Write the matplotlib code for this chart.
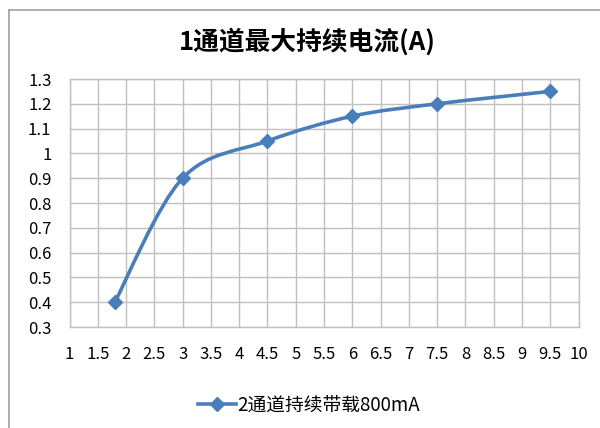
import numpy as np
import matplotlib.pyplot as plt
from matplotlib.path import Path
from matplotlib.patches import PathPatch
from matplotlib.lines import Line2D

plt.rcParams['font.family'] = ['Noto Sans CJK SC', 'DejaVu Sans']

# data
x_vals = [1.8, 3, 4.5, 6, 7.5, 9.5]
y_vals = [0.4, 0.9, 1.05, 1.15, 1.2, 1.25]
x_ticks = [1, 1.5, 2, 2.5, 3, 3.5, 4, 4.5, 5, 5.5, 6, 6.5, 7, 7.5, 8, 8.5, 9, 9.5, 10]
x_labels = ["1", "1.5", "2", "2.5", "3", "3.5", "4", "4.5", "5", "5.5", "6", "6.5",
            "7", "7.5", "8", "8.5", "9", "9.5", "10"]
y_ticks = [0.3, 0.4, 0.5, 0.6, 0.7, 0.8, 0.9, 1.0, 1.1, 1.2, 1.3]
y_labels = ["0.3", "0.4", "0.5", "0.6", "0.7", "0.8", "0.9", "1", "1.1", "1.2", "1.3"]
title = "1通道最大持续电流(A)"
series_name = "2通道持续带载800mA"

line_color = "#4a7ebb"
grid_color = "#c0c0c0"

fig = plt.figure(figsize=(6, 4.28), dpi=100)
ax = fig.add_axes([69.5 / 600, 1 - 327 / 428, 509 / 600, 248 / 428])

# smoothed line like Excel (bezier through the points)
pts = np.column_stack([x_vals, y_vals])
verts = [tuple(pts[0])]
codes = [Path.MOVETO]
n = len(pts)
for i in range(n - 1):
    p0 = pts[i - 1] if i > 0 else pts[i]
    p1 = pts[i]
    p2 = pts[i + 1]
    p3 = pts[i + 2] if i + 2 < n else pts[i + 1]
    c1 = p1 + (p2 - p0) / 6
    c2 = p2 - (p3 - p1) / 6
    verts += [tuple(c1), tuple(c2), tuple(p2)]
    codes += [Path.CURVE4] * 3
ax.add_patch(PathPatch(Path(verts, codes), facecolor="none", edgecolor=line_color,
                       lw=2.6, zorder=3, capstyle="round", joinstyle="round"))
ax.plot(x_vals, y_vals, linestyle="none", marker="D", ms=7, color=line_color, zorder=4)

ax.set_xlim(1, 10)
ax.set_ylim(0.3, 1.3)
ax.set_xticks(x_ticks)
ax.set_xticklabels(x_labels)
ax.set_yticks(y_ticks)
ax.set_yticklabels(y_labels)
ax.tick_params(axis="x", length=0, pad=14, labelsize=12, colors="#000000")
ax.tick_params(axis="y", length=0, pad=13, labelsize=12, colors="#000000")
ax.grid(True, color=grid_color, lw=1)
ax.set_axisbelow(True)
for s in ax.spines.values():
    s.set_color(grid_color)
    s.set_linewidth(1)

fig.text(307 / 600, 1 - 42 / 428, title, ha="center", va="center", fontsize=18.5, fontweight="bold")

# legend
handle = Line2D([], [], color=line_color, lw=2.6, marker="D", ms=7)
fig.legend([handle], [series_name], loc="center", bbox_to_anchor=(0.515, 1 - 405 / 428),
           frameon=False, fontsize=13.5, handlelength=2.0, handletextpad=0.05)

# chart border
fig.add_artist(Line2D([9 / 600, 9 / 600], [0, 1 - 10 / 428], color="#a0a0a0", lw=1.2,
                      transform=fig.transFigure))
fig.add_artist(Line2D([9 / 600, 1], [1 - 10 / 428, 1 - 10 / 428], color="#a0a0a0", lw=1.2,
                      transform=fig.transFigure))

fig.savefig("out.png", dpi=100)
